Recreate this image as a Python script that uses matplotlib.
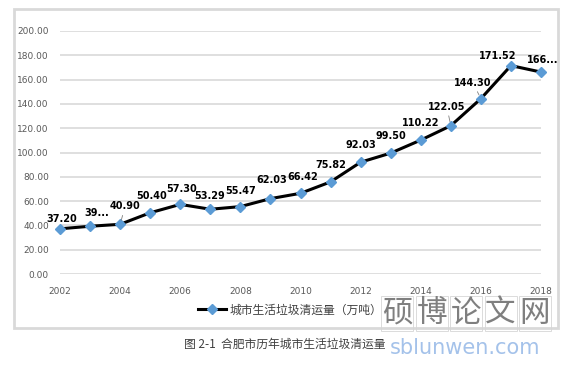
import matplotlib
matplotlib.use("Agg")
import matplotlib.pyplot as plt
from matplotlib.patches import Rectangle
from matplotlib.lines import Line2D

years = list(range(2002, 2019))
values = [37.20, 39.30, 40.90, 50.40, 57.30, 53.29, 55.47, 62.03, 66.42, 75.82,
          92.03, 99.50, 110.22, 122.05, 144.30, 171.52, 166.20]
labels = ["37.20", "39...", "40.90", "50.40", "57.30", "53.29", "55.47", "62.03", "66.42",
          "75.82", "92.03", "99.50", "110.22", "122.05", "144.30", "171.52", "166..."]
y_ticks = [0, 20, 40, 60, 80, 100, 120, 140, 160, 180, 200]
x_ticks = [2002, 2004, 2006, 2008, 2010, 2012, 2014, 2016, 2018]
series_name = "城市生活垃圾清运量（万吨）"
caption = "图 2-1  合肥市历年城市生活垃圾清运量"

# label placement offsets (pixels) and leader-line flags
offsets = [(2, 10), (7, 13), (5, 18), (1, 17), (1, 15), (-1, 13), (0, 16), (1, 19), (2, 16),
           (0, 17), (0, 17), (0, 17), (0, 17), (-4, 19), (-8, 16), (-13, 10), (2, 12)]
leaders = [2, 13, 14]

plt.rcParams['font.family'] = ['DejaVu Sans', 'Noto Sans CJK SC']
W, H = 568, 367
fig = plt.figure(figsize=(W / 100, H / 100), dpi=100)

# outer frame
fig.patches.append(Rectangle((14 / W, 1 - 328 / H), (558 - 14) / W, (328 - 9) / H,
                             transform=fig.transFigure, fill=False,
                             edgecolor='#d9d9d9', lw=2))

ax = fig.add_axes([60 / W, 1 - 274 / H, (541 - 60) / W, (274 - 31) / H])
ax.set_xlim(2002, 2018)
ax.set_ylim(0, 200)
for s in ax.spines.values():
    s.set_visible(False)
ax.set_yticks(y_ticks)
ax.set_yticklabels([f"{v:.2f}" for v in y_ticks])
ax.set_xticks(x_ticks)
ax.set_xticklabels([str(v) for v in x_ticks])
ax.tick_params(axis='both', length=0, labelsize=6.5, colors='#595959')
ax.tick_params(axis='y', pad=8)
ax.tick_params(axis='x', pad=9)
ax.grid(axis='y', color='#d9d9d9', lw=1.2)
ax.set_axisbelow(True)

ax.plot(years, values, color='black', lw=2.2, marker='D', markersize=5.5,
        markerfacecolor='#5b9bd5', markeredgecolor='#5b9bd5', zorder=3, clip_on=False)

for i, (x, v, lab) in enumerate(zip(years, values, labels)):
    dx, dy = offsets[i]
    kw = {}
    if i in leaders:
        kw['arrowprops'] = dict(arrowstyle='-', color='#7f7f7f', lw=0.6, shrinkA=1, shrinkB=3)
    ax.annotate(lab, (x, v), xytext=(dx, dy), textcoords='offset pixels',
                ha='center', va='center', fontsize=7, fontweight='bold', color='black',
                zorder=4, **kw)

handle = Line2D([], [], color='black', lw=2.2, marker='D', markersize=5.5,
                markerfacecolor='#5b9bd5', markeredgecolor='#5b9bd5')
fig.legend([handle], [series_name], loc='center', bbox_to_anchor=(290 / W, 1 - 310 / H),
           frameon=False, handlelength=2.4, handletextpad=0.3,
           prop={'family': ['Noto Sans CJK SC'], 'size': 8.5}, labelcolor='#404040')

fig.text(285 / W, 1 - 344 / H, caption, ha='center', va='center', fontsize=8.5,
         color='#404040', family=['Noto Sans CJK SC', 'DejaVu Sans'])

# watermark
wm_chars = "硕博论文网"
for k, ch in enumerate(wm_chars):
    cx = 397 + k * 34.5
    fig.patches.append(Rectangle(((cx - 16) / W, 1 - 331 / H), 32 / W, 35 / H,
                                 transform=fig.transFigure, fill=False,
                                 edgecolor='#d6d6d6', lw=0.6))
    fig.text(cx / W, 1 - 313 / H, ch, ha='center', va='center', fontsize=22,
             color='#7f7f7f', family=['Noto Sans CJK SC'])
fig.text(465 / W, 1 - 348 / H, "sblunwen.com", ha='center', va='center', fontsize=15,
         color='#a4c2ea')

fig.savefig("out.png", dpi=100)
